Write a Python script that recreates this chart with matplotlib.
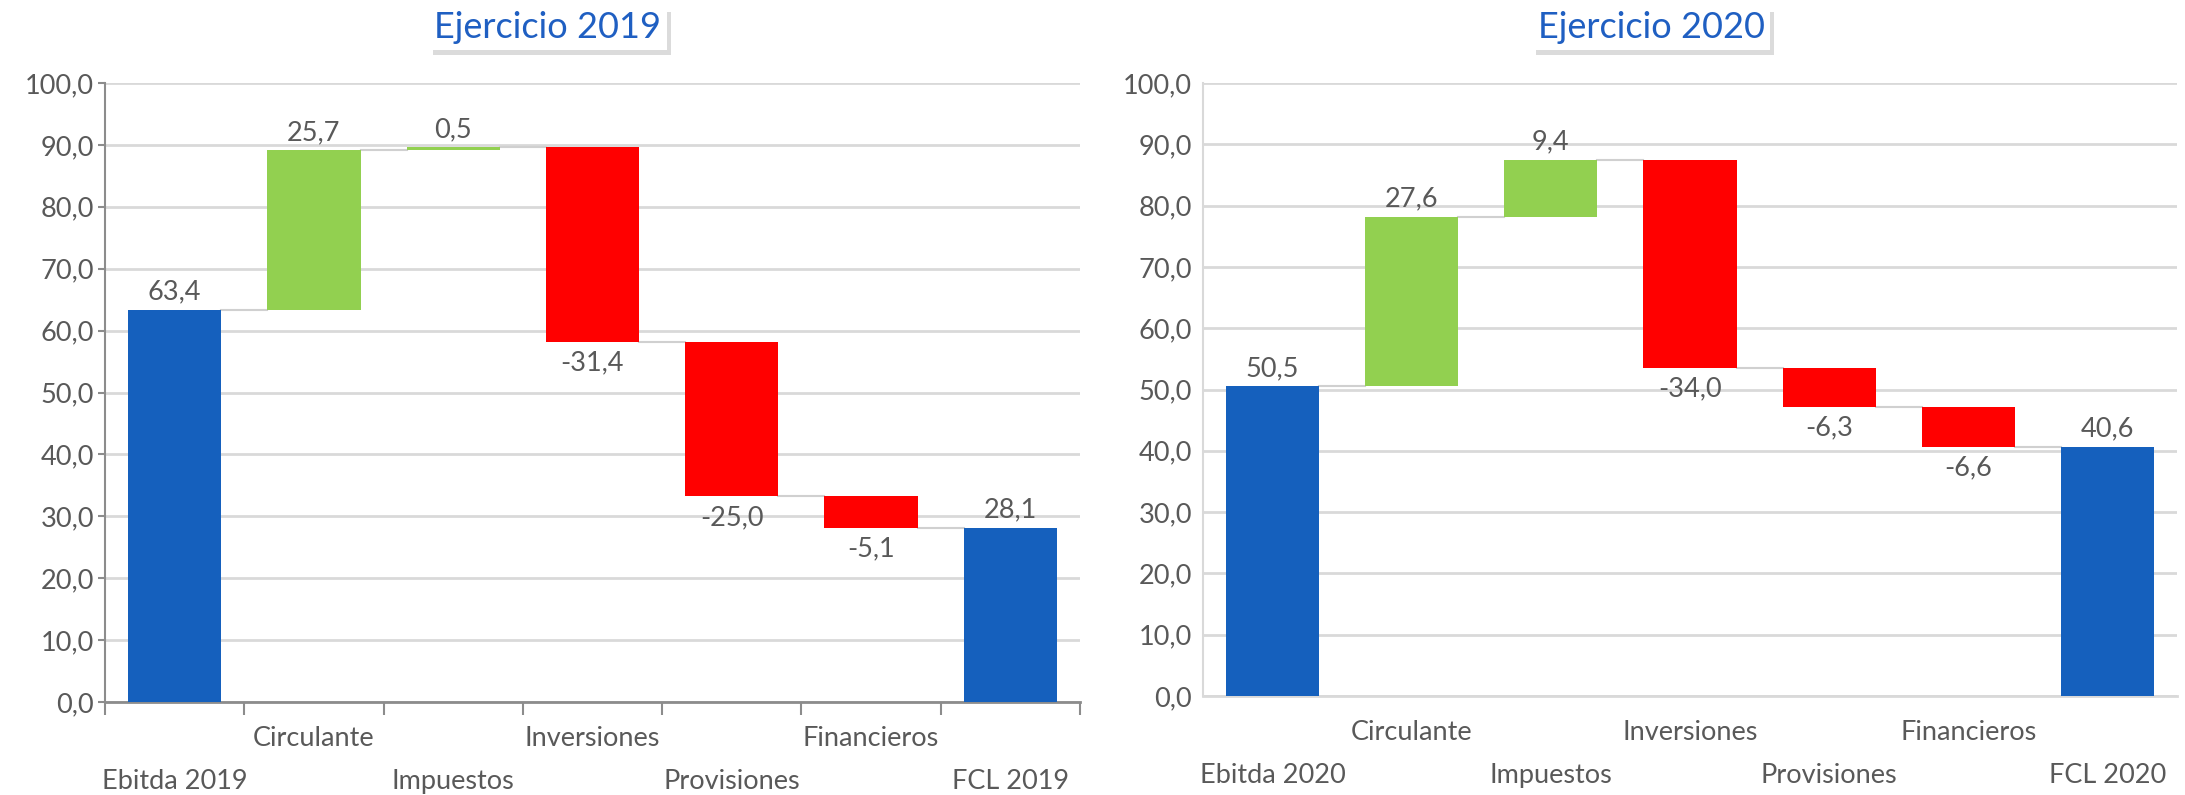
import matplotlib
matplotlib.use("Agg")
import matplotlib.pyplot as plt
import matplotlib.patheffects as pe
import numpy as np

plt.rcParams['font.family'] = ['Lato', 'DejaVu Sans']

cats_2019 = ["Ebitda 2019", "Circulante", "Impuestos", "Inversiones", "Provisiones", "Financieros", "FCL 2019"]
vals_2019 = [63.4, 25.7, 0.5, -31.4, -25.0, -5.1, 28.1]
cats_2020 = ["Ebitda 2020", "Circulante", "Impuestos", "Inversiones", "Provisiones", "Financieros", "FCL 2020"]
vals_2020 = [50.5, 27.6, 9.4, -34.0, -6.3, -6.6, 40.6]
titles = ["Ejercicio 2019", "Ejercicio 2020"]
yticks = [0, 10, 20, 30, 40, 50, 60, 70, 80, 90, 100]

BLUE = "#1560BD"
GREEN = "#92D050"
RED = "#FF0000"
TXT = "#595959"
GRID = "#D9D9D9"
FS = 19.5

W, H = 2185, 795
fig = plt.figure(figsize=(W / 100, H / 100), dpi=100)


def fmt(v):
    return f"{v:.1f}".replace(".", ",")


def draw(ax, cats, vals, dark_axis):
    n = len(cats)
    x = np.arange(n)
    bw = 0.67
    bottoms, heights, colors = [], [], []
    running = 0.0
    for i, v in enumerate(vals):
        if i == 0 or i == n - 1:
            bottoms.append(0.0)
            heights.append(v)
            colors.append(BLUE)
            running = v
        else:
            if v >= 0:
                bottoms.append(running)
                heights.append(v)
                colors.append(GREEN)
            else:
                bottoms.append(running + v)
                heights.append(-v)
                colors.append(RED)
            running += v
    ax.bar(x, heights, bottom=bottoms, width=bw, color=colors, zorder=3)
    # connectors
    level = 0.0
    for i, v in enumerate(vals[:-1]):
        level = v if i == 0 else level + v
        ax.plot([i + bw / 2, i + 1 - bw / 2], [level, level], color="#D0D0D0",
                lw=1.5, zorder=2)
    # labels
    for i, v in enumerate(vals):
        top = bottoms[i] + heights[i]
        if v >= 0:
            ax.annotate(fmt(v), (x[i], top), xytext=(0, 4), textcoords="offset points",
                        ha="center", va="bottom", fontsize=FS, color=TXT)
        else:
            ax.annotate(fmt(v), (x[i], bottoms[i]), xytext=(0, -6), textcoords="offset points",
                        ha="center", va="top", fontsize=FS, color=TXT)
    ax.set_xlim(-0.5, n - 0.5)
    ax.set_ylim(0, 100)
    ax.set_yticks(yticks)
    ax.set_yticklabels([fmt(t) for t in yticks], fontsize=FS, color=TXT)
    ax.yaxis.grid(True, color=GRID, lw=2, zorder=0)
    ax.set_axisbelow(True)
    for s in ["top", "right"]:
        ax.spines[s].set_visible(False)
    axcol = "#8C8C8C" if dark_axis else GRID
    ax.spines["left"].set_color(axcol)
    ax.spines["bottom"].set_color(axcol)
    ax.spines["left"].set_linewidth(1.5)
    ax.spines["bottom"].set_linewidth(2)
    # category ticks at boundaries
    ax.set_xticks(np.arange(n + 1) - 0.5)
    ax.set_xticklabels([])
    if dark_axis:
        ax.tick_params(axis="x", length=9, width=1.5, color=axcol)
        ax.tick_params(axis="y", length=5, width=1.5, color=axcol, pad=3)
    else:
        ax.tick_params(axis="x", length=0)
        ax.tick_params(axis="y", length=0, pad=8)
    # two-row labels
    for i, c in enumerate(cats):
        off = -48 if i % 2 == 0 else -17
        ax.annotate(c, (x[i], 0), xycoords=("data", "axes fraction"),
                    xytext=(0, off), textcoords="offset points",
                    ha="center", va="top", fontsize=FS, color=TXT)


ax1 = fig.add_axes([105 / W, 1 - 702 / H, (1080 - 105) / W, (702 - 83) / H])
ax2 = fig.add_axes([1203 / W, 1 - 696 / H, (2177 - 1203) / W, (696 - 83) / H])
draw(ax1, cats_2019, vals_2019, True)
draw(ax2, cats_2020, vals_2020, False)

for tx, title in zip([548 / W, 1651 / W], titles):
    t = fig.text(tx, 1 - 28 / H, title, ha="center", va="center", fontsize=26,
                 color="#1F5FC2",
                 bbox=dict(boxstyle="square,pad=0.15", fc="white", ec="none"))
    t.get_bbox_patch().set_path_effects([
        pe.withSimplePatchShadow(offset=(3, -4), shadow_rgbFace="#9A9A9A", alpha=0.35),
        pe.Normal()])

fig.savefig("out.png", dpi=100, facecolor="white")
